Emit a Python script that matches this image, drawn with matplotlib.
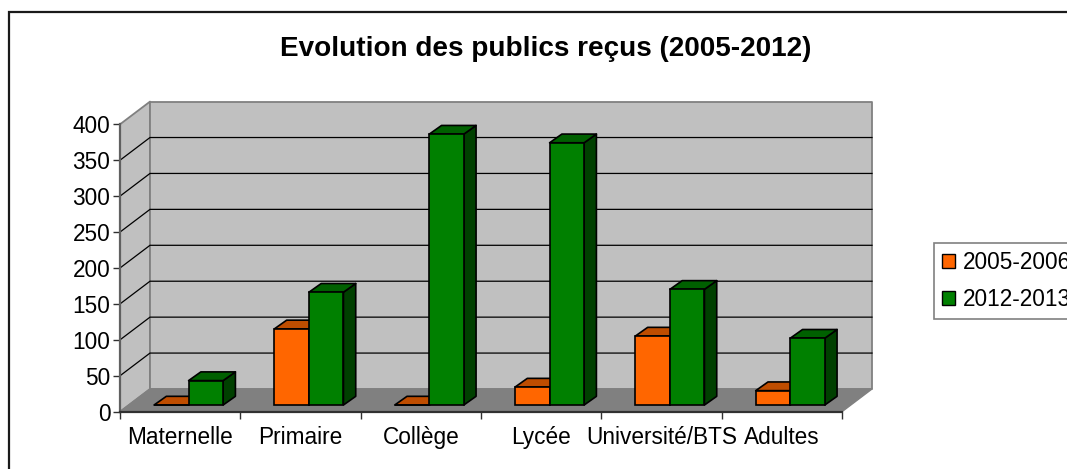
import matplotlib
matplotlib.use("Agg")
import matplotlib.pyplot as plt
from matplotlib.patches import Patch, Polygon, Rectangle

categories = ["Maternelle", "Primaire", "Collège", "Lycée", "Université/BTS", "Adultes"]
series_names = ["2005-2006", "2012-2013"]
values_2005 = [0, 106, 0, 25, 96, 20]
values_2012 = [34, 157, 377, 365, 161, 93]
y_ticks = [0, 50, 100, 150, 200, 250, 300, 350, 400]

W, H = 1067, 469
plt.rcParams["font.family"] = ["Liberation Sans", "DejaVu Sans"]

fig = plt.figure(figsize=(W / 100, H / 100), dpi=100)
# front plane of the fake 3D box, in pixels
left, right, top, bottom = 120, 842, 124.3, 411.7
ax = fig.add_axes([left / W, 1 - bottom / H, (right - left) / W, (bottom - top) / H])
ax.set_xlim(0, 6)
ax.set_ylim(0, 400)
ax.patch.set_visible(False)

# depth of the walls and of the bars, in data units
wall_dx, wall_dy = 0.2493, 31.6
bar_x0, bar_w = 0.283, 0.287
bar_dy = 9.3
depth_dx, depth_dy = 0.102, 12.1


def poly(points, face, edge="none", lw=0, z=1):
    ax.add_patch(Polygon(points, closed=True, facecolor=face, edgecolor=edge,
                         linewidth=lw, zorder=z, clip_on=False, joinstyle="round"))


# walls and floor
poly([(0, 0), (wall_dx, wall_dy), (wall_dx, 400 + wall_dy), (0, 400)], "#C0C0C0", "#808080", 1.3, 1)
poly([(wall_dx, wall_dy), (6 + wall_dx, wall_dy), (6 + wall_dx, 400 + wall_dy), (wall_dx, 400 + wall_dy)],
     "#C0C0C0", "#808080", 1.3, 1)
poly([(0, 0), (6, 0), (6 + wall_dx, wall_dy), (wall_dx, wall_dy)], "#808080", "#808080", 1, 1.5)

# gridlines
for v in y_ticks[1:-1]:
    ax.plot([0, wall_dx, 6 + wall_dx], [v, v + wall_dy, v + wall_dy], color="black", lw=0.9,
            zorder=2, clip_on=False, solid_joinstyle="miter")


def draw_bar(x, val, front, top_col, side, z):
    y0 = bar_dy
    y1 = bar_dy + val
    poly([(x + bar_w, y0), (x + bar_w + depth_dx, y0 + depth_dy), (x + bar_w + depth_dx, y1 + depth_dy),
          (x + bar_w, y1)], side, "black", 1.2, z)
    poly([(x, y1), (x + depth_dx, y1 + depth_dy), (x + bar_w + depth_dx, y1 + depth_dy), (x + bar_w, y1)],
         top_col, "black", 1.2, z)
    ax.bar(x, val, width=bar_w, bottom=y0, align="edge", color=front, edgecolor="black",
           linewidth=1.2, zorder=z + 0.1, clip_on=False)


for i in range(len(categories)):
    draw_bar(i + bar_x0, values_2005[i], "#FF6600", "#BF4D00", "#803300", 3 + i)
    draw_bar(i + bar_x0 + bar_w, values_2012[i], "#008000", "#006000", "#004000", 3.5 + i)

# axes lines and labels
for s in ["top", "right"]:
    ax.spines[s].set_visible(False)
ax.spines["left"].set_color("#606060")
ax.spines["left"].set_linewidth(1.6)
ax.spines["bottom"].set_color("#303030")
ax.spines["bottom"].set_linewidth(1.6)
ax.spines["left"].set_zorder(2.5)
ax.spines["bottom"].set_zorder(2.5)

ax.set_yticks(y_ticks)
ax.set_yticklabels([str(v) for v in y_ticks], fontsize=16.3, color="black")
ax.set_xticks(range(7))
ax.set_xticklabels([])
ax.set_xticks([i + 0.5 for i in range(6)], minor=True)
ax.set_xticklabels(categories, minor=True, fontsize=16.3)
ax.tick_params(axis="x", which="minor", length=0, pad=10)
ax.tick_params(axis="x", which="major", length=5, width=1, color="#303030")
ax.tick_params(axis="y", length=5, width=1, color="#303030", pad=2)

fig.text(545.5 / W, 1 - 49.5 / H, "Evolution des publics reçus (2005-2012)", ha="center", va="center",
         fontsize=20.1, fontweight="bold")

# outer frame, only the top and left sides are visible in the picture
fig.add_artist(Rectangle((9 / W, -0.1), 1.1, 0.1 + (1 - 12.5 / H), transform=fig.transFigure,
                         fill=False, edgecolor="#1a1a1a", linewidth=1.6))

handles = [Patch(facecolor="#FF6600", edgecolor="black", linewidth=1),
           Patch(facecolor="#008000", edgecolor="black", linewidth=1)]
leg = fig.legend(handles, series_names, loc="upper left", bbox_to_anchor=(934.5 / W, 1 - 243 / H),
                 borderaxespad=0, fontsize=16.3, frameon=True, fancybox=False, framealpha=1,
                 edgecolor="#808080", handlelength=0.57, handleheight=0.57, handletextpad=0.35,
                 labelspacing=0.62, borderpad=0.35)
leg.get_frame().set_linewidth(1.2)

fig.savefig("out.png", dpi=100)
